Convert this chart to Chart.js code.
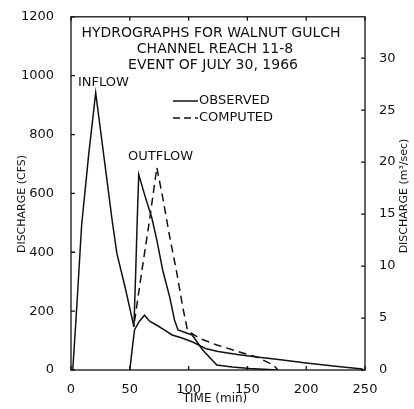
<!DOCTYPE html>
<html>
<head>
<meta charset="utf-8">
<script src="https://cdn.jsdelivr.net/npm/chart.js@4.4.1/dist/chart.umd.min.js"></script>
<style>
  body { margin: 0; background: #fff; }
  #wrap { width: 414px; height: 409px; }
</style>
</head>
<body>
<div id="wrap"><canvas id="hydroChart"></canvas></div>
<script>
// time ticks (min) and discharge ticks
const timeTicks = [0, 50, 100, 150, 200, 250];
const cfsTicks = [0, 200, 400, 600, 800, 1000, 1200];
const metricTicks = [0, 5, 10, 15, 20, 25, 30];
const CFS_PER_CMS = 35.315;

// inflow hydrograph (solid)
const inflowTime = [1.5, 5, 9, 15, 21, 28, 35, 39, 46, 50, 53.5];
const inflowCfs  = [0, 220, 490, 730, 942, 725, 508, 396, 281, 210, 146];

// observed outflow, high peak (solid)
const obsPeakTime = [53.5, 55, 56.3, 57.6, 63, 68.6, 73, 78, 84, 88, 91, 103, 112, 124, 137, 152, 175];
const obsPeakCfs  = [146, 330, 508, 664, 590, 519, 441, 339, 247, 170, 136, 119, 68, 17, 10, 5, 0];

// observed outflow, low long tail (solid)
const obsTailTime = [50, 52, 54, 58, 62.5, 67, 73, 80, 86, 95, 103, 110, 115, 125, 143, 158, 180, 200, 225, 248];
const obsTailCfs  = [0, 70, 136, 165, 186, 165, 152, 135, 119, 108, 96, 82, 72, 63, 52, 44, 34, 24, 13, 3];

// computed outflow (dashed)
const computedTime = [54, 60, 67, 73, 78, 84, 90, 95, 99, 101, 109, 124, 146, 158, 172, 176];
const computedCfs  = [165, 330, 515, 688, 586, 451, 329, 214, 136, 129, 108, 85, 58, 44, 17, 0];

const inkColor = '#111';
const fontName = '"DejaVu Sans", "Liberation Sans", sans-serif';

function toPoints(xs, ys) {
  return xs.map((x, i) => ({ x: x, y: ys[i] }));
}

// draws the frame, inward ticks and all lettering like the paper figure
const paperPlugin = {
  id: 'paperPlugin',
  afterDraw(chart) {
    const ctx = chart.ctx;
    const area = chart.chartArea;
    const xs = chart.scales.x;
    const ys = chart.scales.y;
    const ys2 = chart.scales.y2;

    ctx.save();
    ctx.strokeStyle = inkColor;
    ctx.fillStyle = inkColor;
    ctx.lineWidth = 1.3;
    ctx.strokeRect(area.left, area.top, area.right - area.left, area.bottom - area.top);

    // inward tick marks
    ctx.beginPath();
    timeTicks.forEach(t => {
      let px = xs.getPixelForValue(t);
      ctx.moveTo(px, area.bottom); ctx.lineTo(px, area.bottom - 4);
      ctx.moveTo(px, area.top); ctx.lineTo(px, area.top + 4);
    });
    cfsTicks.forEach(v => {
      let py = ys.getPixelForValue(v);
      ctx.moveTo(area.left, py); ctx.lineTo(area.left + 4, py);
    });
    metricTicks.forEach(v => {
      let py = ys2.getPixelForValue(v);
      ctx.moveTo(area.right, py); ctx.lineTo(area.right - 4, py);
    });
    ctx.stroke();

    // title block
    ctx.font = '14px ' + fontName;
    ctx.textAlign = 'center';
    ctx.textBaseline = 'middle';
    ctx.fillText('HYDROGRAPHS FOR WALNUT GULCH', 211, 33);
    ctx.fillText('CHANNEL REACH 11-8', 215, 49);
    ctx.fillText('EVENT OF JULY 30, 1966', 213, 65);

    // curve labels
    ctx.font = '13px ' + fontName;
    ctx.textAlign = 'left';
    ctx.fillText('INFLOW', 78, 83);
    ctx.fillText('OUTFLOW', 128, 157);

    // legend
    ctx.lineWidth = 1.5;
    ctx.beginPath();
    ctx.moveTo(173, 101); ctx.lineTo(198, 101);
    ctx.stroke();
    ctx.setLineDash([7, 4]);
    ctx.beginPath();
    ctx.moveTo(173, 118); ctx.lineTo(198, 118);
    ctx.stroke();
    ctx.setLineDash([]);
    ctx.font = '13px ' + fontName;
    ctx.fillText('OBSERVED', 199, 101);
    ctx.fillText('COMPUTED', 199, 118);

    // axis titles
    ctx.font = '12px ' + fontName;
    ctx.textAlign = 'center';
    ctx.fillText('TIME (min)', 215, 399);

    ctx.font = '11px ' + fontName;
    ctx.save();
    ctx.translate(22, 204);
    ctx.rotate(-Math.PI / 2);
    ctx.fillText('DISCHARGE (CFS)', 0, 0);
    ctx.restore();

    ctx.save();
    ctx.translate(404, 196);
    ctx.rotate(-Math.PI / 2);
    ctx.fillText('DISCHARGE (m\u00B3/sec)', 0, 0);
    ctx.restore();

    ctx.restore();
  }
};

window.addEventListener('load', function () {
  const lineStyle = { borderColor: inkColor, borderWidth: 1.5, pointRadius: 0, tension: 0, fill: false };

  new Chart(document.getElementById('hydroChart'), {
    type: 'line',
    data: {
      datasets: [
        Object.assign({ label: 'Inflow', data: toPoints(inflowTime, inflowCfs) }, lineStyle),
        Object.assign({ label: 'Observed outflow', data: toPoints(obsPeakTime, obsPeakCfs) }, lineStyle),
        Object.assign({ label: 'Observed outflow tail', data: toPoints(obsTailTime, obsTailCfs) }, lineStyle),
        Object.assign({ label: 'Computed outflow', data: toPoints(computedTime, computedCfs), borderDash: [8, 5] }, lineStyle)
      ]
    },
    options: {
      responsive: true,
      maintainAspectRatio: false,
      animation: false,
      layout: { padding: { top: 16, left: 0, right: 0, bottom: 0 } },
      plugins: {
        legend: { display: false },
        tooltip: { enabled: false }
      },
      scales: {
        x: {
          type: 'linear',
          min: 0,
          max: 250,
          grid: { display: false },
          border: { display: false },
          ticks: {
            stepSize: 50,
            padding: 4,
            color: inkColor,
            font: { family: fontName, size: 13 },
            callback: v => String(v)
          },
          afterFit: scale => { scale.height = 39; }
        },
        y: {
          position: 'left',
          min: 0,
          max: 1200,
          grid: { display: false },
          border: { display: false },
          ticks: {
            stepSize: 200,
            padding: 9,
            color: inkColor,
            font: { family: fontName, size: 13 },
            callback: v => String(v)
          },
          afterFit: scale => { scale.width = 71; }
        },
        y2: {
          position: 'right',
          min: 0,
          max: 1200 / CFS_PER_CMS,
          grid: { display: false },
          border: { display: false },
          ticks: {
            stepSize: 5,
            includeBounds: false,
            padding: 6,
            color: inkColor,
            font: { family: fontName, size: 13 },
            callback: v => (metricTicks.includes(v) ? String(v) : '')
          },
          afterFit: scale => { scale.width = 49; }
        }
      }
    },
    plugins: [paperPlugin]
  });
});
</script>
</body>
</html>
